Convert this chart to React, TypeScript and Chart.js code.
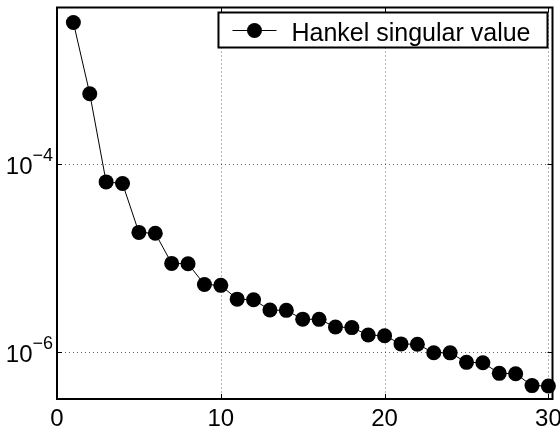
import React, { useEffect, useRef } from 'react';
import { Chart, registerables } from 'chart.js';

Chart.register(...registerables);

// ---------- data ----------
const orderIndex = [
  1, 2, 3, 4, 5, 6, 7, 8, 9, 10,
  11, 12, 13, 14, 15, 16, 17, 18, 19, 20,
  21, 22, 23, 24, 25, 26, 27, 28, 29, 30,
];
const hankelValues = [
  3.24e-3, 5.65e-4, 6.49e-5, 6.24e-5, 1.88e-5, 1.84e-5, 8.79e-6, 8.71e-6, 5.25e-6, 5.13e-6,
  3.66e-6, 3.61e-6, 2.8e-6, 2.78e-6, 2.24e-6, 2.23e-6, 1.85e-6, 1.82e-6, 1.52e-6, 1.49e-6,
  1.22e-6, 1.21e-6, 9.84e-7, 9.8e-7, 7.76e-7, 7.69e-7, 5.93e-7, 5.87e-7, 4.39e-7, 4.35e-7,
];
const seriesLabel = 'Hankel singular value';
const xTickValues = [0, 10, 20, 30];
const xTickLabels = ['0', '10', '20', '30'];
const yTickExponents = [-6, -4];
const xRange = [0, 30.25];
const yRange = [3.16e-7, 4.68e-3];

const FONT = '"Liberation Sans", Arial, Helvetica, sans-serif';

const decorPlugin = {
  id: 'matlabDecor',
  beforeDatasetsDraw(chart: any) {
    const { ctx, chartArea: a, scales } = chart;
    const x = scales.x;
    const y = scales.y;
    ctx.save();
    ctx.strokeStyle = 'rgba(0,0,0,0.6)';
    ctx.lineWidth = 1;
    ctx.setLineDash([1, 3]);
    ctx.beginPath();
    for (const v of xTickValues) {
      const px = Math.round(x.getPixelForValue(v)) + 0.5;
      if (px > a.left + 2 && px < a.right - 2) {
        ctx.moveTo(px, a.top);
        ctx.lineTo(px, a.bottom);
      }
    }
    for (const e of yTickExponents) {
      const py = Math.round(y.getPixelForValue(Math.pow(10, e))) + 0.5;
      if (py > a.top + 2 && py < a.bottom - 2) {
        ctx.moveTo(a.left, py);
        ctx.lineTo(a.right, py);
      }
    }
    ctx.stroke();
    ctx.restore();
  },
  afterDatasetsDraw(chart: any) {
    const { ctx, chartArea: a, scales } = chart;
    const x = scales.x;
    const y = scales.y;
    ctx.save();
    ctx.setLineDash([]);
    // inward ticks
    ctx.strokeStyle = '#000';
    ctx.lineWidth = 1;
    ctx.beginPath();
    const tl = 5;
    for (const v of xTickValues) {
      const px = Math.round(x.getPixelForValue(v)) + 0.5;
      ctx.moveTo(px, a.bottom);
      ctx.lineTo(px, a.bottom - tl);
      ctx.moveTo(px, a.top);
      ctx.lineTo(px, a.top + tl);
    }
    for (const e of yTickExponents) {
      const py = Math.round(y.getPixelForValue(Math.pow(10, e))) + 0.5;
      ctx.moveTo(a.left, py);
      ctx.lineTo(a.left + tl, py);
      ctx.moveTo(a.right, py);
      ctx.lineTo(a.right - tl, py);
    }
    ctx.stroke();
    // frame
    ctx.lineWidth = 2;
    ctx.strokeRect(a.left, a.top, a.right - a.left, a.bottom - a.top);

    // x labels
    ctx.fillStyle = '#000';
    ctx.font = `24px ${FONT}`;
    ctx.textAlign = 'center';
    ctx.textBaseline = 'alphabetic';
    xTickValues.forEach((v, i) => {
      const px = x.getPixelForValue(v);
      ctx.fillText(xTickLabels[i], px, a.bottom + 27);
    });

    // y labels 10^e
    for (const e of yTickExponents) {
      const py = y.getPixelForValue(Math.pow(10, e));
      const expText = '\u2212' + String(Math.abs(e));
      ctx.font = `18px ${FONT}`;
      const ew = ctx.measureText(expText).width;
      const right = a.left - 4;
      ctx.textAlign = 'right';
      ctx.fillText(expText, right, py - 3);
      ctx.font = `24px ${FONT}`;
      ctx.fillText('10', right - ew, py + 10);
    }

    // legend
    ctx.font = `25px ${FONT}`;
    const tw = ctx.measureText(seriesLabel).width;
    const boxRight = a.right - 5;
    const boxTop = a.top + 5;
    const boxH = 35;
    const boxW = 73 + tw + 17;
    const boxLeft = boxRight - boxW;
    ctx.fillStyle = '#fff';
    ctx.fillRect(boxLeft, boxTop, boxW, boxH);
    ctx.strokeStyle = '#000';
    ctx.lineWidth = 2;
    ctx.strokeRect(boxLeft, boxTop, boxW, boxH);
    const cy = boxTop + 18;
    ctx.lineWidth = 1;
    ctx.beginPath();
    ctx.moveTo(boxLeft + 14, cy);
    ctx.lineTo(boxLeft + 58, cy);
    ctx.stroke();
    ctx.fillStyle = '#000';
    ctx.beginPath();
    ctx.arc(boxLeft + 36, cy, 7.5, 0, Math.PI * 2);
    ctx.fill();
    ctx.textAlign = 'left';
    ctx.textBaseline = 'alphabetic';
    ctx.fillText(seriesLabel, boxLeft + 73, boxTop + 28);
    ctx.restore();
  },
};

export default function App() {
  const ref = useRef<HTMLCanvasElement | null>(null);
  useEffect(() => {
    if (!ref.current) return;
    const chart = new Chart(ref.current, {
      type: 'line',
      data: {
        datasets: [
          {
            label: seriesLabel,
            data: orderIndex.map((k, i) => ({ x: k, y: hankelValues[i] })),
            borderColor: '#000',
            backgroundColor: '#000',
            borderWidth: 1,
            pointRadius: 7.5,
            pointBackgroundColor: '#000',
            pointBorderColor: '#000',
            pointBorderWidth: 0,
            tension: 0,
            clip: false as any,
          },
        ],
      },
      options: {
        responsive: false,
        animation: false,
        events: [],
        layout: { padding: { left: 0, top: 7, right: 7, bottom: 0 } },
        plugins: { legend: { display: false }, tooltip: { enabled: false } },
        scales: {
          x: {
            type: 'linear',
            min: xRange[0],
            max: xRange[1],
            grid: { display: false },
            border: { display: false },
            ticks: { display: false },
            afterFit(scale: any) {
              scale.height = 33;
            },
          },
          y: {
            type: 'logarithmic',
            min: yRange[0],
            max: yRange[1],
            grid: { display: false },
            border: { display: false },
            ticks: { display: false },
            afterFit(scale: any) {
              scale.width = 57;
            },
          },
        },
      },
      plugins: [decorPlugin],
    });
    return () => chart.destroy();
  }, []);
  return (
    <div style={{ position: 'fixed', left: 0, top: 0, width: 560, height: 432, background: '#fff' }}>
      <canvas ref={ref} width={560} height={432} />
    </div>
  );
}
